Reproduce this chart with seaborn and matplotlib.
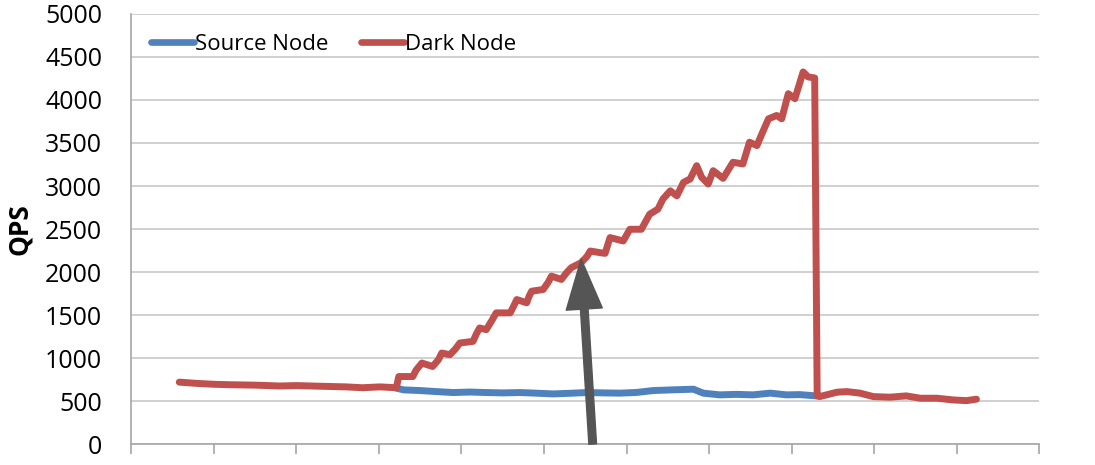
import pandas as pd
import seaborn as sns
import matplotlib.pyplot as plt

# time axis in tick units (12 unlabeled ticks at 0..11)
dark_t = [0.58, 0.8, 1.0, 1.19, 1.5, 1.8, 2.0, 2.3, 2.6, 2.8, 3.01, 3.21,
          3.24, 3.41, 3.45, 3.52, 3.65, 3.72, 3.76, 3.86, 3.93, 3.98, 4.14,
          4.18, 4.22, 4.30, 4.37, 4.42, 4.59, 4.63, 4.67, 4.79, 4.82, 4.85,
          4.99, 5.05, 5.09, 5.21, 5.28, 5.33, 5.45, 5.52, 5.56, 5.68, 5.74,
          5.80, 5.88, 5.96, 6.04, 6.18, 6.28, 6.38, 6.44, 6.53, 6.61, 6.69,
          6.77, 6.85, 6.91, 6.99, 7.05, 7.17, 7.29, 7.41, 7.49, 7.58, 7.64,
          7.72, 7.82, 7.88, 7.96, 8.04, 8.14, 8.20, 8.28, 8.31, 8.34, 8.55,
          8.67, 8.83, 8.99, 9.19, 9.39, 9.56, 9.76, 9.96, 10.12, 10.24]
dark_qps = [720, 705, 695, 690, 685, 675, 680, 672, 665, 655, 665, 655,
            785, 785, 860, 942, 902, 980, 1058, 1039, 1110, 1175, 1194,
            1280, 1350, 1330, 1440, 1525, 1525, 1600, 1680, 1642, 1720, 1777,
            1797, 1880, 1952, 1914, 2000, 2050, 2109, 2180, 2244, 2225, 2217,
            2400, 2381, 2361, 2497, 2497, 2672, 2731, 2847, 2944, 2886, 3042,
            3081, 3236, 3101, 3023, 3178, 3089, 3276, 3256, 3509, 3470, 3606,
            3781, 3820, 3781, 4073, 4015, 4326, 4268, 4256, 560, 552, 603,
            610, 592, 552, 545, 560, 533, 533, 513, 505, 522]

source_t = [3.21, 3.30, 3.50, 3.70, 3.90, 4.10, 4.30, 4.50, 4.71, 4.90,
            5.11, 5.30, 5.52, 5.72, 5.92, 6.12, 6.32, 6.55, 6.81, 6.93,
            7.13, 7.33, 7.53, 7.74, 7.94, 8.10, 8.30]
source_qps = [650, 630, 622, 610, 599, 605, 599, 595, 599, 592,
              583, 590, 599, 595, 592, 600, 622, 630, 638, 592,
              572, 578, 572, 592, 572, 575, 560]

# annotation arrow (tail -> tip)
arrow_tail = (5.59, 0)
arrow_tip = (5.45, 2150)

blue = "#4F81BD"
red = "#C0504D"

sns.set_theme(style="white")
plt.rcParams['font.family'] = ['Open Sans', 'DejaVu Sans']
plt.rcParams['text.color'] = 'black'
plt.rcParams['axes.labelcolor'] = 'black'
plt.rcParams['ytick.labelcolor'] = 'black'

df = pd.concat([
    pd.DataFrame({"t": source_t, "QPS": source_qps, "series": "Source Node"}),
    pd.DataFrame({"t": dark_t, "QPS": dark_qps, "series": "Dark Node"}),
])

fig = plt.figure(figsize=(10.95, 4.65), dpi=100)
ax = fig.add_axes([0.120, 0.045, 0.829, 0.925])

sns.lineplot(data=df, x="t", y="QPS", hue="series", estimator=None, sort=False,
             palette={"Source Node": blue, "Dark Node": red},
             hue_order=["Source Node", "Dark Node"],
             linewidth=5.0, ax=ax, legend=False)
for line in ax.lines:
    line.set_solid_joinstyle("round")
    line.set_solid_capstyle("round")

ax.annotate("", xy=arrow_tip, xytext=arrow_tail,
            arrowprops=dict(width=5.5, headwidth=26, headlength=36,
                            color="#555555", shrink=0))

ax.set_xlim(0, 11)
ax.set_ylim(0, 5000)
ax.set_xticks(range(12))
ax.set_xticklabels([])
ax.set_yticks(range(0, 5001, 500))
ax.tick_params(axis="y", labelsize=18, length=7, color="#A6A6A6", width=1.2,
               pad=14, labelcolor="black")
ax.tick_params(axis="x", length=7, color="#A6A6A6", width=1.2, bottom=True)
ax.yaxis.grid(True, color="#C8C8C8", linewidth=1.2)
ax.set_axisbelow(True)
for s in ["top", "right"]:
    ax.spines[s].set_visible(False)
for s in ["left", "bottom"]:
    ax.spines[s].set_color("#A6A6A6")
    ax.spines[s].set_linewidth(1.2)

ax.set_xlabel("")
ax.set_ylabel("QPS", fontsize=19, fontweight="bold", labelpad=9, color="black")

handles = [plt.Line2D([], [], color=blue, lw=4.8),
           plt.Line2D([], [], color=red, lw=4.8)]
ax.legend(handles, ["Source Node", "Dark Node"], loc="upper left",
          bbox_to_anchor=(0.0, 1.0), ncol=2, frameon=False, fontsize=16,
          handlelength=1.9, handletextpad=0.05, columnspacing=1.5,
          borderaxespad=0.5, labelcolor="black")

fig.savefig("out.png", dpi=100)
